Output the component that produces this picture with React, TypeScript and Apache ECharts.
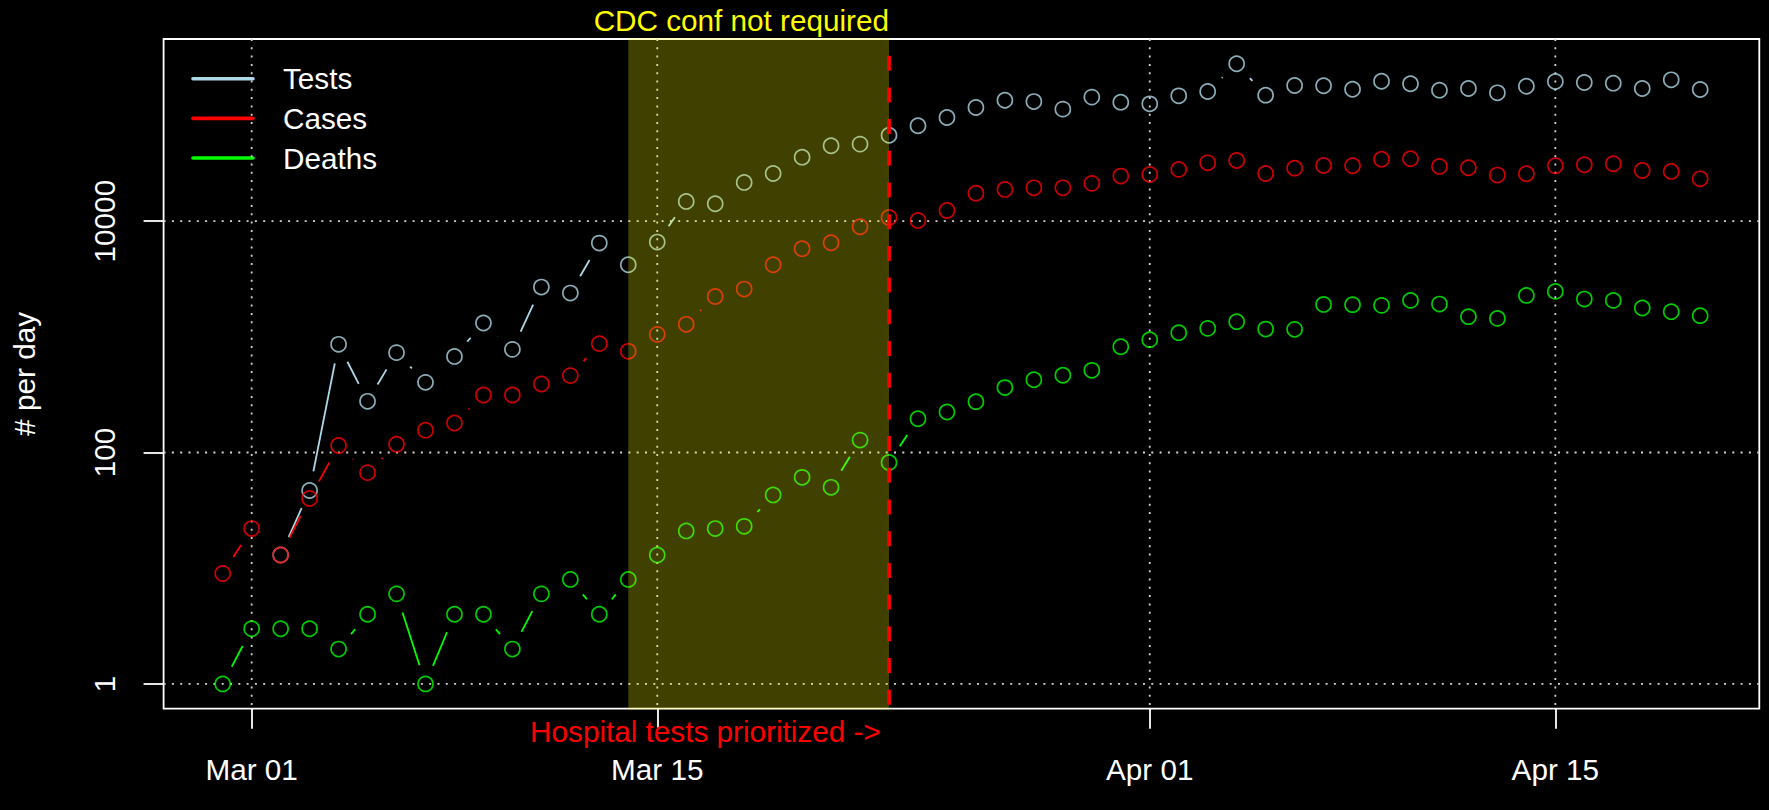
import React, { useEffect, useRef } from "react";
import * as echarts from "echarts";

// ---------- data ----------
const FIRST_DATE = "2020-02-29";
const seriesNames = ["Tests", "Cases", "Deaths"];
const seriesColors = ["#ADD8E6", "#FF0000", "#00FF00"];

const tests: (number | null)[] = [
  null, null, 13, 47, 861, 277, 730, 404, 677, 1315, 779, 2692, 2388, 6457,
  4198, 6590, 14800, 14130, 21600, 25800, 35700, 44800, 46300, 55300,
  66700, 78700, 96000, 111000, 108000, 92900, 118000, 106700, 103200, 121000,
  132000, 229000, 122700, 148600, 148000, 138000, 162000, 153800, 135500, 140000,
  128500, 146600, 161000, 157800, 155700, 140000, 166500, 137400,
];
const cases: (number | null)[] = [
  9, 22, 13, 40, 115, 67, 118, 156, 180, 314,
  314, 391, 462, 873, 749, 1050, 1282, 2235, 2586, 4200,
  5780, 6510, 8950, 10770, 10140, 12370, 17450, 18800, 19400, 19400,
  21200, 24500, 25300, 28000, 31900, 33400, 25800, 28700, 30300, 30100,
  34300, 34600, 29700, 28900, 25000, 25700, 30100, 30700, 31300, 27400,
  26900, 23200,
];
const deaths: (number | null)[] = [
  1, 3, 3, 3, 2, 4, 6, 1, 4, 4,
  2, 6, 8, 4, 8, 13, 21, 22, 23, 43,
  61, 50, 128, 82, 196, 224, 275, 364, 426, 465,
  513, 822, 945, 1086, 1183, 1352, 1166, 1160, 1906, 1897,
  1870, 2065, 1919, 1494, 1443, 2280, 2470, 2120, 2065, 1775,
  1650, 1524,
];

const xTickDates = ["2020-03-01", "2020-03-15", "2020-04-01", "2020-04-15"];
const xTickLabels = ["Mar 01", "Mar 15", "Apr 01", "Apr 15"];
const yTickValues = [1, 100, 10000];
const yTickLabels = ["1", "100", "10000"];

const shadeStartDate = "2020-03-14";
const markerDate = "2020-03-23";
const topNote = "CDC conf not required";
const bottomNote = "Hospital tests prioritized ->";
const yTitle = "# per day";

// ---------- helpers ----------
const DAY = 86400000;
const utc = (s: string) => Date.parse(s + "T00:00:00Z");
const t0 = utc(FIRST_DATE);
const times = tests.map((_, i) => t0 + i * DAY);
const xTickTimes = xTickDates.map(utc);

const FONT = "'Liberation Sans', Arial, Helvetica, sans-serif";
const FS = 29.7;
const GAP = 19.5;

const allVals = [...tests, ...cases, ...deaths].filter((v) => v != null) as number[];
const lo = Math.log10(Math.min(...allVals));
const hi = Math.log10(Math.max(...allVals));
const yMin = Math.pow(10, lo - 0.04 * (hi - lo));
const yMax = Math.pow(10, hi + 0.04 * (hi - lo));
const xSpan = times[times.length - 1] - times[0];
const xMin = times[0] - 0.04 * xSpan;
const xMax = times[times.length - 1] + 0.04 * xSpan;

function segData(vals: (number | null)[]) {
  const out: number[][] = [];
  for (let i = 0; i < vals.length - 1; i++) {
    const a = vals[i];
    const b = vals[i + 1];
    if (a != null && b != null) out.push([times[i], a, times[i + 1], b]);
  }
  return out;
}

function segSeries(name: string, color: string, vals: (number | null)[]) {
  return {
    type: "custom",
    name: name + " lines",
    coordinateSystem: "cartesian2d",
    silent: true,
    z: 3,
    clip: false,
    data: segData(vals),
    encode: { x: [0, 2], y: [1, 3] },
    renderItem: (params: any, api: any) => {
      const p0 = api.coord([api.value(0), api.value(1)]);
      const p1 = api.coord([api.value(2), api.value(3)]);
      const dx = p1[0] - p0[0];
      const dy = p1[1] - p0[1];
      const len = Math.hypot(dx, dy);
      if (len <= 2 * GAP) return { type: "group", children: [] };
      const ux = dx / len;
      const uy = dy / len;
      return {
        type: "line",
        shape: {
          x1: p0[0] + ux * GAP,
          y1: p0[1] + uy * GAP,
          x2: p1[0] - ux * GAP,
          y2: p1[1] - uy * GAP,
        },
        style: { stroke: color, lineWidth: 1.8, fill: null },
      };
    },
  };
}

function pointSeries(name: string, color: string, vals: (number | null)[]) {
  const data: number[][] = [];
  vals.forEach((v, i) => {
    if (v != null) data.push([times[i], v]);
  });
  return {
    type: "scatter",
    name,
    z: 3,
    silent: true,
    symbol: "circle",
    symbolSize: 15,
    itemStyle: { color: "rgba(0,0,0,0)", borderColor: color, borderWidth: 1.7 },
    data,
  };
}

const gridLineStyle = { stroke: "#D3D3D3", lineWidth: 1.8, lineDash: [2, 6.3], fill: null };

const option: any = {
  animation: false,
  backgroundColor: "#000000",
  grid: {
    left: 163.6,
    top: 39,
    width: 1595.7,
    height: 669.7,
    show: true,
    borderColor: "#FFFFFF",
    borderWidth: 1.8,
    backgroundColor: "transparent",
    containLabel: false,
  },
  xAxis: {
    type: "value",
    min: xMin,
    max: xMax,
    axisLine: { show: false },
    splitLine: { show: false },
    axisTick: {
      show: true,
      customValues: xTickTimes,
      length: 20,
      lineStyle: { color: "#FFFFFF", width: 1.8 },
    },
    axisLabel: {
      customValues: xTickTimes,
      color: "#FFFFFF",
      fontSize: FS,
      fontFamily: FONT,
      lineHeight: 30,
      margin: 46,
      hideOverlap: false,
      formatter: (v: number) => {
        let best = 0;
        xTickTimes.forEach((t, i) => {
          if (Math.abs(t - v) < Math.abs(xTickTimes[best] - v)) best = i;
        });
        return xTickLabels[best];
      },
    },
  },
  yAxis: {
    type: "log",
    logBase: 10,
    min: yMin,
    max: yMax,
    axisLine: { show: false },
    splitLine: { show: false },
    minorTick: { show: false },
    axisTick: {
      show: true,
      customValues: yTickValues,
      length: 20,
      lineStyle: { color: "#FFFFFF", width: 1.8 },
    },
    axisLabel: {
      customValues: yTickValues,
      rotate: 90,
      color: "#FFFFFF",
      fontSize: FS,
      fontFamily: FONT,
      lineHeight: 30,
      margin: 44,
      hideOverlap: false,
      formatter: (v: number) => {
        let best = 0;
        yTickValues.forEach((t, i) => {
          if (Math.abs(Math.log10(t) - Math.log10(v)) < Math.abs(Math.log10(yTickValues[best]) - Math.log10(v))) best = i;
        });
        return yTickLabels[best];
      },
    },
    name: yTitle,
    nameLocation: "middle",
    nameRotate: 90,
    nameGap: 124,
    nameTextStyle: { color: "#FFFFFF", fontSize: FS, fontFamily: FONT, lineHeight: 30 },
  },
  graphic: seriesNames.flatMap((n, i) => [
    {
      type: "line",
      shape: { x1: 193, y1: 78.7 + i * 39.65, x2: 253, y2: 78.7 + i * 39.65 },
      style: { stroke: seriesColors[i], lineWidth: 3.6, lineCap: "round" },
    },
    {
      type: "text",
      x: 283,
      y: 78.7 + i * 39.65,
      style: {
        text: n,
        fill: "#FFFFFF",
        fontSize: FS,
        fontFamily: FONT,
        align: "left",
        verticalAlign: "middle",
      },
    },
  ]),
  series: [
    {
      type: "custom",
      name: "hgrid",
      coordinateSystem: "cartesian2d",
      silent: true,
      z: 1,
      clip: false,
      data: yTickValues.map((v) => [times[0], v]),
      renderItem: (params: any, api: any) => {
        const cs = params.coordSys;
        const p = api.coord([api.value(0), api.value(1)]);
        return { type: "line", shape: { x1: cs.x, y1: p[1], x2: cs.x + cs.width, y2: p[1] }, style: gridLineStyle };
      },
    },
    {
      type: "custom",
      name: "vgrid",
      coordinateSystem: "cartesian2d",
      silent: true,
      z: 1,
      clip: false,
      data: xTickTimes.map((t) => [t, 1]),
      renderItem: (params: any, api: any) => {
        const cs = params.coordSys;
        const p = api.coord([api.value(0), api.value(1)]);
        return { type: "line", shape: { x1: p[0], y1: cs.y, x2: p[0], y2: cs.y + cs.height }, style: gridLineStyle };
      },
    },
    segSeries(seriesNames[0], seriesColors[0], tests),
    pointSeries(seriesNames[0], seriesColors[0], tests),
    segSeries(seriesNames[1], seriesColors[1], cases),
    pointSeries(seriesNames[1], seriesColors[1], cases),
    segSeries(seriesNames[2], seriesColors[2], deaths),
    pointSeries(seriesNames[2], seriesColors[2], deaths),
    {
      type: "custom",
      name: "shade",
      coordinateSystem: "cartesian2d",
      silent: true,
      z: 6,
      clip: false,
      data: [[utc(shadeStartDate), 1, utc(markerDate), 1]],
      encode: { x: [0, 2], y: [1, 3] },
      renderItem: (params: any, api: any) => {
        const cs = params.coordSys;
        const a = api.coord([api.value(0), api.value(1)]);
        const b = api.coord([api.value(2), api.value(3)]);
        return {
          type: "rect",
          shape: { x: a[0], y: cs.y - 0.9, width: b[0] - a[0], height: cs.height + 1.8 },
          style: { fill: "rgba(255,255,0,0.25)" },
        };
      },
    },
    {
      type: "custom",
      name: "marker",
      coordinateSystem: "cartesian2d",
      silent: true,
      z: 7,
      clip: false,
      data: [[utc(markerDate), 1]],
      renderItem: (params: any, api: any) => {
        const cs = params.coordSys;
        const p = api.coord([api.value(0), api.value(1)]);
        return {
          type: "group",
          children: [
            {
              type: "line",
              shape: { x1: p[0], y1: cs.y, x2: p[0], y2: cs.y + cs.height },
              style: { stroke: "#FF0000", lineWidth: 3.7, lineDash: [15, 16.7], lineDashOffset: 15, fill: null },
            },
            {
              type: "text",
              x: p[0],
              y: 20.3,
              style: {
                text: topNote,
                fill: "#FFFF00",
                fontSize: FS,
                fontFamily: FONT,
                align: "right",
                verticalAlign: "middle",
              },
            },
            {
              type: "text",
              x: p[0] - 8.3,
              y: 731,
              style: {
                text: bottomNote,
                fill: "#FF0000",
                fontSize: FS,
                fontFamily: FONT,
                align: "right",
                verticalAlign: "middle",
              },
            },
          ],
        };
      },
    },
  ],
};

export default function App() {
  const ref = useRef<HTMLDivElement>(null);
  useEffect(() => {
    document.body.style.margin = "0";
    document.body.style.background = "#000";
    const chart = echarts.init(ref.current as HTMLDivElement, null, { renderer: "svg" });
    chart.setOption(option);
    return () => chart.dispose();
  }, []);
  return (
    <div
      ref={ref}
      style={{ position: "absolute", left: 0, top: 0, width: 1769, height: 810, background: "#000" }}
    />
  );
}
